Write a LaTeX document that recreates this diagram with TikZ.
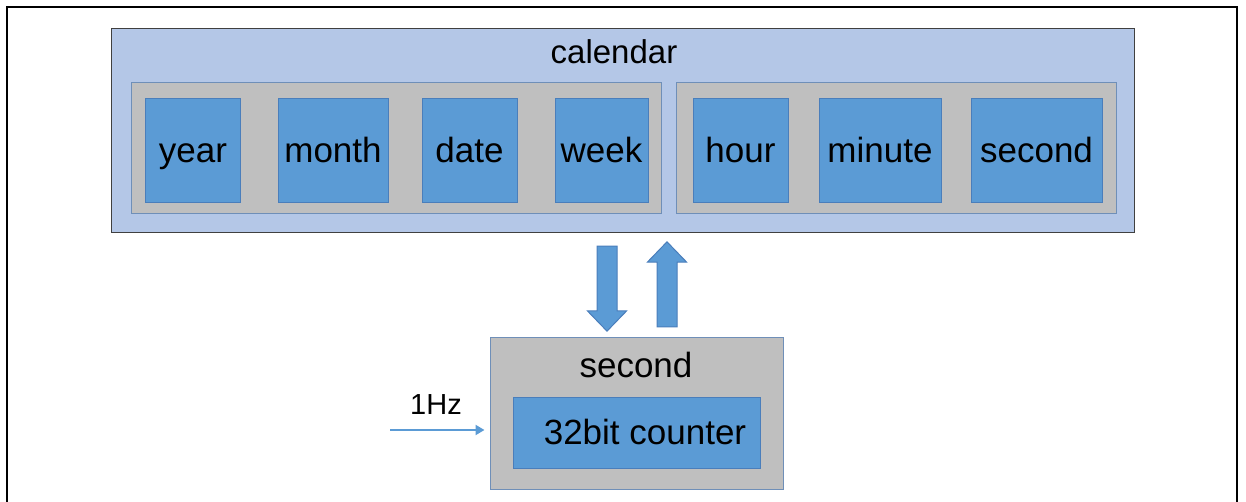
\documentclass[tikz,border=0pt]{standalone}
\usepackage{fontspec}
\setmainfont{Liberation Sans}
\usepackage{tikz}
\usetikzlibrary{shapes.arrows, arrows.meta}
\definecolor{calfill}{HTML}{B4C7E7}
\definecolor{grpfill}{HTML}{BFBFBF}
\definecolor{grpline}{HTML}{6F8FB8}
\definecolor{cellfill}{HTML}{5B9BD5}
\definecolor{cellline}{HTML}{4A7EBB}
\begin{document}
\begin{tikzpicture}[x=1pt, y=-1pt,
    group/.style={draw=grpline, fill=grpfill, line width=1pt, inner sep=0pt},
    cell/.style={draw=cellline, fill=cellfill, line width=1pt, inner sep=0pt,
                 minimum height=104pt, text height=29pt, text depth=5pt,
                 font=\fontsize{35}{40}\selectfont},
    blockarrow/.style={single arrow, draw=cellline, fill=cellfill, line width=1pt,
                 inner xsep=0pt, inner ysep=9.5pt, minimum height=85pt, minimum width=38pt,
                 single arrow head extend=9.5pt, single arrow tip angle=88}]
    \useasboundingbox (0,0) rectangle (1246,502);
    \draw[line width=2pt] (7,502) -- (7,7) -- (1237,7) -- (1237,502);
    % calendar
    \node[draw=black!75, fill=calfill, line width=1pt, inner sep=0pt,
          minimum width=1023pt, minimum height=204pt] (calendar) at (622.5,131) {};
    \node[font=\fontsize{33}{38}\selectfont] (caltitle) at (614,52) {calendar};
    \node[group, minimum width=530pt, minimum height=131pt] (dategrp) at (396,148.5) {};
    \node[group, minimum width=440pt, minimum height=131pt] (timegrp) at (896,148.5) {};
    \node[cell, minimum width=95pt] (year) at (193,151) {year};
    \node[cell, minimum width=110pt] (month) at (333,151) {month};
    \node[cell, minimum width=95pt] (date) at (469.5,151) {date};
    \node[cell, minimum width=93pt] (week) at (601.5,151) {week};
    \node[cell, minimum width=95pt] (hour) at (740.5,151) {hour};
    \node[cell, minimum width=122pt] (minute) at (880,151) {minute};
    \node[cell, minimum width=131pt] (second) at (1036.5,151) {second};
    % second counter
    \node[group, minimum width=293pt, minimum height=152pt] (sec) at (636.5,413) {};
    \node[font=\fontsize{35}{40}\selectfont] (sectitle) at (636,365) {second};
    \node[cell, minimum width=247pt, minimum height=71pt] (counter) at (637,432.5) {\hspace{16pt}32bit counter};
    % data flow
    \node[blockarrow, rotate=270] (down) at (607,283.5) {};
    \node[blockarrow, rotate=90] (up) at (667,289.5) {};
    \coordinate (clk) at (390,430);
    \draw[cellfill, line width=2.5pt, -{Triangle[length=9pt, width=10pt]}, shorten >=5pt]
        (clk) -- (clk -| sec.west);
    \node[font=\fontsize{29}{34}\selectfont] (hz) at (436,405) {1Hz};
\end{tikzpicture}
\end{document}
